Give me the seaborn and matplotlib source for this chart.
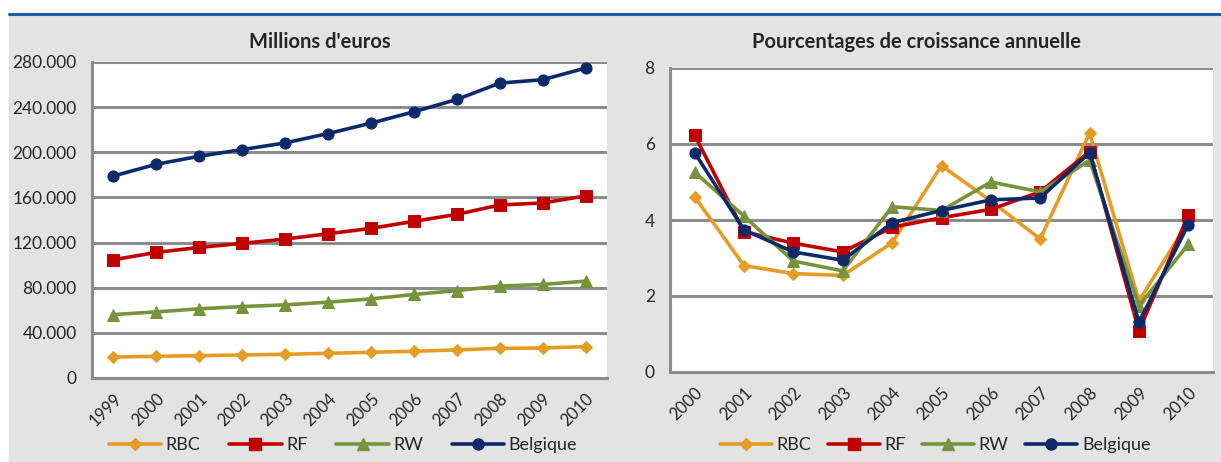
import numpy as np
import pandas as pd
import seaborn as sns
import matplotlib.pyplot as plt
from matplotlib.ticker import FixedLocator, FuncFormatter
from matplotlib.lines import Line2D

sns.set_style("white")
plt.rcParams['font.family'] = ['Lato', 'DejaVu Sans']

# --- data -------------------------------------------------------------
years_level = ['1999', '2000', '2001', '2002', '2003', '2004', '2005',
               '2006', '2007', '2008', '2009', '2010']
rbc_level = [18600, 19200, 19800, 20400, 21000, 21900, 22800, 23700,
             24900, 26300, 26600, 27800]
rf_level = [104800, 111300, 115700, 119300, 123100, 127800, 132600,
            138800, 145000, 153300, 155100, 161300]
rw_level = [56200, 58600, 61300, 63300, 64800, 67200, 70100, 74000,
            77500, 81400, 82900, 85800]
bel_level = [179000, 189400, 196500, 202400, 208300, 216600, 225800,
             235900, 246800, 261300, 264300, 274600]

years_growth = ['2000', '2001', '2002', '2003', '2004', '2005', '2006',
                '2007', '2008', '2009', '2010']
rbc_growth = [4.61, 2.80, 2.59, 2.54, 3.40, 5.43, 4.50, 3.50, 6.29, 1.87, 3.95]
rf_growth = [6.23, 3.69, 3.39, 3.16, 3.81, 4.06, 4.28, 4.74, 5.80, 1.08, 4.13]
rw_growth = [5.26, 4.10, 2.92, 2.66, 4.35, 4.25, 5.00, 4.74, 5.57, 1.74, 3.36]
bel_growth = [5.77, 3.74, 3.16, 2.94, 3.93, 4.25, 4.53, 4.58, 5.77, 1.31, 3.88]

series = ['RBC', 'RF', 'RW', 'Belgique']
colors = {'RBC': '#E59C24', 'RF': '#C00000', 'RW': '#77933C', 'Belgique': '#0C2A6A'}
markers = {'RBC': 'D', 'RF': 's', 'RW': '^', 'Belgique': 'o'}
msize = {'RBC': 6, 'RF': 8, 'RW': 8, 'Belgique': 8}

bg = '#E3E3E3'
grid_col = '#8C8C8C'
W, H = 1221, 462


def long_frame(years, values):
    rows = []
    for name, vals in zip(series, values):
        for i, (y, v) in enumerate(zip(years, vals)):
            rows.append({'pos': i, 'year': y, 'serie': name, 'val': v})
    return pd.DataFrame(rows)


df_level = long_frame(years_level, [rbc_level, rf_level, rw_level, bel_level])
df_growth = long_frame(years_growth, [rbc_growth, rf_growth, rw_growth, bel_growth])

fig = plt.figure(figsize=(W / 100, H / 100), dpi=100)
fig.patch.set_facecolor('white')
# grey panel + blue rule at the top
fig.add_artist(plt.Rectangle((9 / W, 0), 1 - 9 / W, 1 - 15 / H,
                             transform=fig.transFigure, color=bg, zorder=-5))
fig.add_artist(Line2D([9 / W, 1], [1 - 13.5 / H] * 2, transform=fig.transFigure,
                      color='#1F5FA6', lw=2.2))

ax1 = fig.add_axes([92 / W, 1 - 378 / H, (607 - 92) / W, (378 - 62) / H])
ax2 = fig.add_axes([670 / W, 1 - 372 / H, (1213 - 670) / W, (372 - 68) / H])


def draw(ax, df, years, ymax, ystep, fmt, title, title_x, legend_x, colspace):
    ax.set_facecolor('white')
    for name in series:
        sub = df[df.serie == name]
        sns.lineplot(data=sub, x='pos', y='val', ax=ax, color=colors[name],
                     marker=markers[name], markersize=msize[name],
                     markeredgecolor=colors[name], linewidth=2.6,
                     legend=False, zorder=3)
    n = len(years)
    ax.set_xlim(-0.5, n - 0.5)
    ax.set_ylim(0, ymax)
    ax.yaxis.set_major_locator(FixedLocator(np.arange(0, ymax + ystep / 2, ystep)))
    ax.yaxis.set_major_formatter(FuncFormatter(fmt))
    ax.xaxis.set_major_locator(FixedLocator(np.arange(-0.5, n, 1.0)))
    ax.xaxis.set_major_formatter(FuncFormatter(lambda v, p: ''))
    ax.xaxis.set_minor_locator(FixedLocator(np.arange(n)))
    ax.set_xticklabels(years, minor=True, rotation=45, ha='right',
                       rotation_mode='anchor', fontsize=12)
    ax.tick_params(axis='x', which='minor', length=0, pad=9)
    ax.tick_params(axis='x', which='major', length=5, width=2, color=grid_col,
                   direction='out')
    ax.tick_params(axis='y', length=5, width=2, color=grid_col, labelsize=12.5,
                   direction='out', pad=6)
    ax.grid(axis='y', color=grid_col, linewidth=2.2)
    ax.set_axisbelow(True)
    for side in ['top', 'right']:
        ax.spines[side].set_visible(False)
    for side in ['left', 'bottom']:
        ax.spines[side].set_color(grid_col)
        ax.spines[side].set_linewidth(2.2)
    ax.set_xlabel('')
    ax.set_ylabel('')
    fig.text(title_x / W, 1 - 42 / H, title, fontsize=14.5, fontweight='bold',
             ha='center', va='center')
    handles = [Line2D([], [], color=colors[s], marker=markers[s], markersize=msize[s],
                      linewidth=2.6) for s in series]
    fig.legend(handles, series, loc='center', bbox_to_anchor=(legend_x / W, 1 - 445 / H),
               ncol=4, frameon=False, fontsize=13, handlelength=2.9,
               columnspacing=colspace, handletextpad=0.25, borderpad=0)


def fmt_level(v, p):
    return f"{int(v):,}".replace(',', '.') if v else '0'


draw(ax1, df_level, years_level, 280000, 40000, fmt_level, "Millions d'euros",
     320, 343, 1.6)
draw(ax2, df_growth, years_growth, 8, 2, lambda v, p: f"{int(v)}",
     "Pourcentages de croissance annuelle", 916, 935, 0.9)

fig.savefig('out.png', dpi=100, facecolor=fig.get_facecolor())
